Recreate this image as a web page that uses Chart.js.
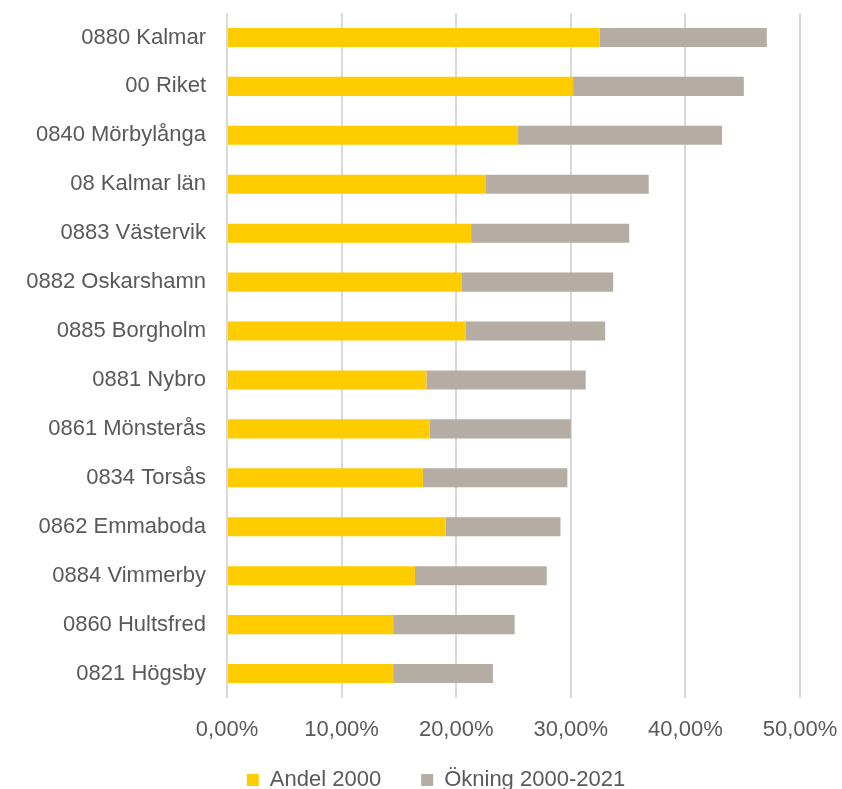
<!DOCTYPE html>
<html>
<head>
<meta charset="utf-8">
<script src="https://cdn.jsdelivr.net/npm/chart.js@4"></script>
<style>
  html, body { margin: 0; padding: 0; background: #ffffff; }
  .chart-container { width: 842px; height: 789px; }
</style>
</head>
<body>
<div class="chart-container"><canvas id="share-chart"></canvas></div>
<script>
// municipalities, top to bottom as in the picture
const labels = [
  "0880 Kalmar",
  "00 Riket",
  "0840 Mörbylånga",
  "08 Kalmar län",
  "0883 Västervik",
  "0882 Oskarshamn",
  "0885 Borgholm",
  "0881 Nybro",
  "0861 Mönsterås",
  "0834 Torsås",
  "0862 Emmaboda",
  "0884 Vimmerby",
  "0860 Hultsfred",
  "0821 Högsby",
];
// share in 2000 (fraction)
const andel2000 = [0.325, 0.302, 0.254, 0.226, 0.213, 0.205, 0.208, 0.174, 0.177, 0.171, 0.191, 0.164, 0.145, 0.145];
// increase 2000-2021 (fraction), stacked on top of the share
const okning = [0.146, 0.149, 0.178, 0.142, 0.138, 0.132, 0.122, 0.139, 0.123, 0.126, 0.100, 0.115, 0.106, 0.087];
// x axis ticks
const xTicks = [0, 0.1, 0.2, 0.3, 0.4, 0.5];

const textColor = "#595959";
const font = { family: "Liberation Sans", size: 22, lineHeight: 1 };

// the original legend sits a bit right of the canvas centre,
// and the x tick labels need room below their (short) axis box
const layoutTweaks = {
  id: "layoutTweaks",
  afterLayout(chart) {
    chart.legend.left += 36;
    chart.legend.right += 36;
    chart.scales.x.bottom += 20;
  },
};

const canvas = document.getElementById("share-chart");

new Chart(canvas, {
  type: "bar",
  data: {
    labels: labels,
    datasets: [
      {
        label: "Andel 2000",
        data: andel2000,
        backgroundColor: "#FFCC00",
      },
      {
        label: "Ökning 2000-2021",
        data: okning,
        backgroundColor: "#B5ACA3",
      },
    ],
  },
  options: {
    indexAxis: "y",
    responsive: true,
    maintainAspectRatio: false,
    animation: false,
    datasets: {
      bar: { categoryPercentage: 1, barPercentage: 0.39 },
    },
    layout: {
      padding: { top: 13, right: 42, left: 0, bottom: -12 },
    },
    plugins: {
      tooltip: { enabled: false },
      legend: {
        position: "bottom",
        labels: {
          color: textColor,
          font: font,
          boxWidth: 12,
          boxHeight: 12,
          padding: 40,
        },
      },
    },
    scales: {
      x: {
        stacked: true,
        min: 0,
        max: 0.5,
        afterBuildTicks: (axis) => {
          axis.ticks = xTicks.map((v) => ({ value: v }));
        },
        border: { display: false },
        grid: { color: "#D9D9D9", lineWidth: 2, drawTicks: false },
        ticks: {
          color: textColor,
          font: font,
          padding: 21,
          maxRotation: 0,
          callback: (v) => (v * 100).toFixed(2).replace(".", ",") + "%",
        },
        afterFit: (axis) => {
          axis.height = 31;
          axis.paddingLeft = 0;
          axis.paddingRight = 0;
        },
      },
      y: {
        stacked: true,
        border: { display: false },
        grid: { display: false, drawTicks: false },
        ticks: { color: textColor, font: font, padding: 21 },
        afterFit: (axis) => {
          axis.width = 227;
          axis.paddingTop = 0;
          axis.paddingBottom = 0;
        },
      },
    },
  },
  plugins: [layoutTweaks],
});
</script>
</body>
</html>
